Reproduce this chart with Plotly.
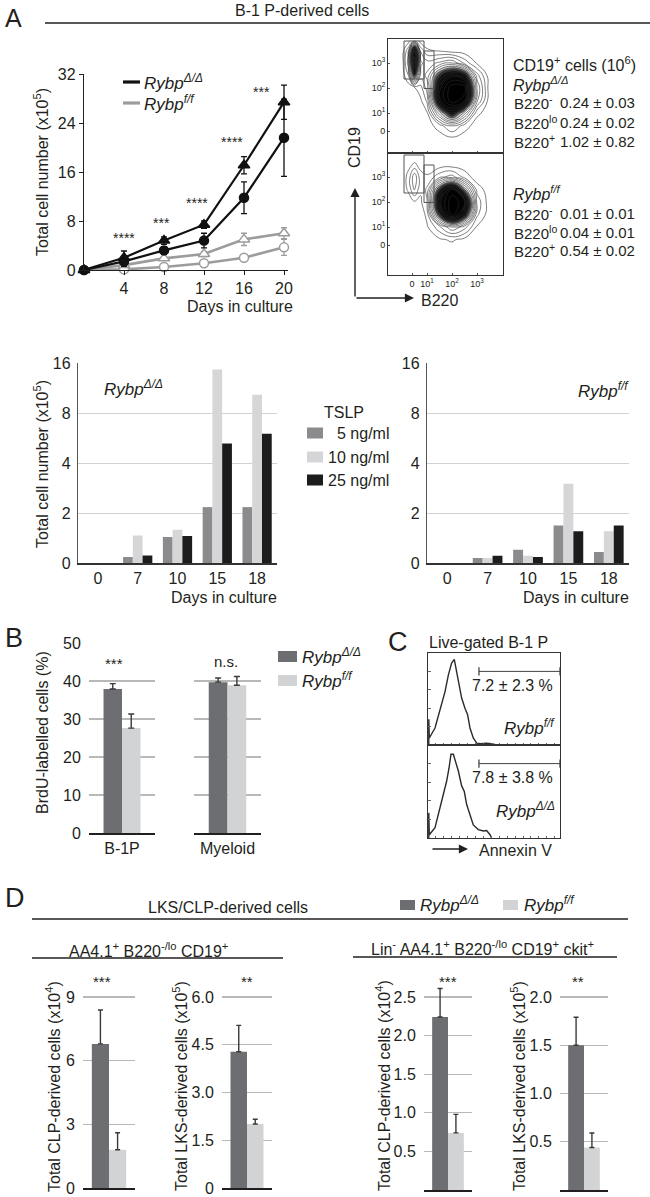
import math
import plotly.graph_objects as go

W, H = 650, 1197
FONT = "Liberation Sans, Arial, Helvetica, sans-serif"
INK = "#231f20"
KO_LINE = "#111111"
FF_LINE = "#9c9c9c"
DARK_BAR = "#6d6e71"
LIGHT_BAR = "#d1d3d4"
C5, C10, C25 = "#8b8b8d", "#d6d6d8", "#1c1c1c"

# ---------------- data ----------------
# Panel A - growth curves (x10^5 cells)
days = [0, 4, 8, 12, 16, 20]
ko_tri = [0, 2.0, 4.8, 7.4, 17.1, 27.4]
ko_tri_err = [0, 1.1, 0.6, 0.6, 1.4, 2.8]
ko_circ = [0, 1.4, 3.2, 4.8, 11.8, 21.6]
ko_circ_err = [0, 0.8, 0.6, 1.2, 2.6, 6.3]
ff_tri = [0, 0.8, 1.9, 2.6, 5.0, 6.0]
ff_tri_err = [0, 0.3, 0.3, 0.4, 1.0, 0.9]
ff_circ = [0, 0.1, 0.5, 1.1, 2.0, 3.7]
ff_circ_err = [0, 0.1, 0.3, 0.3, 0.5, 1.3]
a_ticks_x = [4, 8, 12, 16, 20]
a_ticks_y = [0, 8, 16, 24, 32]
a_star_x = [4, 7.7, 11.3, 14.8, 17.7]
a_star_y = [5.2, 7.7, 11.0, 20.9, 29.0]
a_star_txt = ["****", "***", "****", "****", "***"]

# Panel A - flow cytometry (estimated relative density on decade grid)
flow_x = [-0.5, 0, 0.25, 0.5, 0.75, 1.0, 1.5, 2.0, 2.5, 3.0, 3.5, 4.0]
flow_y_ko = [-0.5, 0, 0.5, 1.0, 1.5, 2.0, 2.5, 3.0, 3.5, 3.9]
flow_z_ko = [
    [0, 0, 0, 0, 0, 0, 0, 0, 0, 0, 0, 0],
    [0, 0, 0, 0, 0, 0, 0, 0.3, 0, 0, 0, 0],
    [0, 0, 0, 0, 0, 0, 0.8, 1.8, 0.8, 0, 0, 0],
    [0, 0, 0, 0, 0, 0.3, 4, 7, 4, 0.6, 0, 0],
    [0, 0, 0, 0, 0.3, 1.2, 8, 10, 9, 2.5, 0, 0],
    [0, 0, 0, 0.3, 0.8, 2, 8, 10, 10, 3, 0, 0],
    [0, 0, 1, 6, 2, 2.5, 6, 8, 7, 2, 0, 0],
    [0, 0, 2, 10, 2.5, 2, 2.5, 3, 1.5, 0.3, 0, 0],
    [0, 0, 1.5, 9, 1.5, 0.5, 0.3, 0, 0, 0, 0, 0],
    [0, 0, 0, 1, 0, 0, 0, 0, 0, 0, 0, 0],
]
flow_y_ff = [-0.9, -0.5, 0, 0.5, 1.0, 1.5, 2.0, 2.5, 3.0, 3.5, 3.9]
flow_z_ff = [
    [0, 0, 0, 0, 0, 0, 0, 0, 0, 0, 0, 0],
    [0, 0, 0, 0, 0, 0, 0, 0, 0, 0, 0, 0],
    [0, 0, 0, 0, 0, 0, 0, 0, 0, 0, 0, 0],
    [0, 0, 0, 0, 0, 0, 0.3, 0.5, 0.2, 0, 0, 0],
    [0, 0, 0, 0, 0, 0.3, 1.5, 3, 2, 0.3, 0, 0],
    [0, 0, 0, 0, 0, 0.6, 6, 10, 7, 1.2, 0, 0],
    [0, 0, 0, 0.3, 0.3, 1.0, 8, 10, 9, 1.5, 0, 0],
    [0, 0, 0.5, 1.8, 0.5, 1.2, 6, 9, 5, 0.8, 0, 0],
    [0, 0, 0.6, 2.2, 0.6, 0.5, 1.5, 2, 0.8, 0, 0, 0],
    [0, 0, 0.2, 0.5, 0.2, 0, 0, 0, 0, 0, 0, 0],
    [0, 0, 0, 0, 0, 0, 0, 0, 0, 0, 0, 0],
]
flow_tickvals_y = [0.28, 1, 2, 3]
flow_tickvals_x = [0.4, 1, 2, 3]
flow_ticktext = ["0", "10<sup>1</sup>", "10<sup>2</sup>", "10<sup>3</sup>"]
gate_neg_x = [0.08, 0.88]
gate_neg_y = [2.36, 3.88]
gate_lo_x = [0.88, 1.28]
gate_lo_y = [1.98, 3.48]
cd19_rows = ["B220<sup>-</sup>", "B220<sup>lo</sup>", "B220<sup>+</sup>"]
cd19_ko = ["0.24 ± 0.03", "0.24 ± 0.02", "1.02 ± 0.82"]
cd19_ff = ["0.01 ± 0.01", "0.04 ± 0.01", "0.54 ± 0.02"]

# Panel A - TSLP bar charts (x10^5 cells)
tslp_days = ["0", "7", "10", "15", "18"]
tslp_levels = ["5 ng/ml", "10 ng/ml", "25 ng/ml"]
ko_5ng = [0, 0.24, 1.04, 2.17, 2.17]
ko_10ng = [0, 1.1, 1.33, 14.6, 10.3]
ko_25ng = [0, 0.3, 1.08, 5.24, 6.0]
ff_5ng = [0, 0.2, 0.53, 1.5, 0.44]
ff_10ng = [0, 0.2, 0.29, 3.0, 1.27]
ff_25ng = [0, 0.29, 0.24, 1.27, 1.5]
tslp_ticks = [0, 2, 4, 8, 16]

# Panel B - BrdU
brdu_groups = ["B-1P", "Myeloid"]
brdu_ko = [37.9, 39.7]
brdu_ko_err = [1.4, 1.1]
brdu_ff = [27.6, 38.9]
brdu_ff_err = [3.7, 2.3]
brdu_sig = ["***", "n.s."]

# Panel C - Annexin V histograms
annexin_x_ff = [0.6, 0.6, 1.0, 5.3, 9.1, 12.9, 15.4, 17.9, 19.9, 21.0, 21.7, 23.0, 25.5,
                28.0, 30.0, 31.8, 34.3, 36.9, 40.0, 44.0, 48.0, 52.0]
annexin_ff = [0, 28, 7.6, 18.5, 38, 58, 76, 89, 93, 84, 78, 71, 51,
              40, 33, 18.5, 7.6, 2, 1.5, 2, 1.5, 0]
annexin_x_ko = [0.6, 0.6, 1.0, 5.3, 9.1, 11.6, 14.1, 15.9, 17.4, 19.2, 20.9, 23.0, 25.5,
                27.5, 29.3, 31.8, 34.3, 38.1, 41.9, 44.4, 47.0, 48.2]
annexin_ko = [0, 27, 3.5, 11, 32, 47, 61, 75, 90, 90, 83, 72, 56,
              50, 36, 24, 14, 9, 7.5, 8, 3.5, 0]
annexin_gate = [38.6, 100]
annexin_pct = ["7.2 ± 2.3 %", "7.8 ± 3.8 %"]

# Panel D - LKS / CLP derived cells
d_ko = [6.79, 4.28, 2.24, 1.50]
d_ko_err = [1.6, 0.83, 0.37, 0.29]
d_ff = [1.8, 2.01, 0.74, 0.44]
d_ff_err = [0.8, 0.15, 0.24, 0.15]
d_ticks = [[0, 3, 6, 9], [0, 1.5, 3.0, 4.5, 6.0], [0, 0.5, 1.0, 1.5, 2.0, 2.5], [0, 0.5, 1.0, 1.5, 2.0]]
d_ticktext = [["0", "3", "6", "9"], ["0", "1.5", "3.0", "4.5", "6.0"],
              ["0", "0.5", "1.0", "1.5", "2.0", "2.5"], ["0", "0.5", "1.0", "1.5", "2.0"]]
d_sig = ["***", "**", "***", "**"]
d_ylabels = ["Total CLP-derived cells (x10<sup>4</sup>)", "Total LKS-derived cells (x10<sup>5</sup>)",
             "Total CLP-derived cells (x10<sup>4</sup>)", "Total LKS-derived cells (x10<sup>5</sup>)"]

KO = "<i>Rybp</i><sup><i>Δ/Δ</i></sup>"
FF = "<i>Rybp</i><sup><i>f/f</i></sup>"


# ---------------- helpers ----------------
def X(px):
    return px / W


def Y(py):
    return 1 - py / H


def tslp_pos(v):
    # broken axis: 0-2 linear, then doubling per gridline
    return v / 2 if v <= 2 else 1 + math.log2(v / 2)


fig = go.Figure()
annotations = []
shapes = []


def ann(text, x, y, size=16, xa="center", ya="middle", angle=0, color=INK, **kw):
    annotations.append(dict(text=text, x=X(x), y=Y(y), xref="paper", yref="paper",
                            xanchor=xa, yanchor=ya, showarrow=False, textangle=angle,
                            font=dict(size=size, color=color, family=FONT), **kw))


def hline(x0, x1, y, width=1.3, color=INK):
    shapes.append(dict(type="line", xref="paper", yref="paper", x0=X(x0), x1=X(x1),
                       y0=Y(y), y1=Y(y), line=dict(color=color, width=width)))


def rect(x0, x1, y0, y1, color):
    shapes.append(dict(type="rect", xref="paper", yref="paper", x0=X(x0), x1=X(x1),
                       y0=Y(y1), y1=Y(y0), line=dict(width=0), fillcolor=color))


layout_axes = {}

# ---------------- Panel A: growth curves ----------------
ann("A", 3, 2, size=25, xa="left", ya="top")
ann("B-1 P-derived cells", 302, 11, size=16)
hline(45, 650, 23)

series = [
    (ff_circ, ff_circ_err, "circle", FF_LINE, True),
    (ff_tri, ff_tri_err, "triangle-up", FF_LINE, True),
    (ko_circ, ko_circ_err, "circle", KO_LINE, False),
    (ko_tri, ko_tri_err, "triangle-up", KO_LINE, False),
]
for vals, errs, sym, col, hollow in series:
    fig.add_trace(go.Scatter(
        x=days, y=vals, mode="lines+markers", xaxis="x", yaxis="y", cliponaxis=False,
        line=dict(color=col, width=2.6 if hollow else 2.2),
        marker=dict(symbol=sym, size=9 if sym == "circle" else 10,
                    color="white" if hollow else col,
                    line=dict(color=col, width=1.5)),
        error_y=dict(type="data", array=errs, color=col, thickness=1.3, width=3),
        hoverinfo="skip"))
for sx, sy, st in zip(a_star_x, a_star_y, a_star_txt):
    annotations.append(dict(text=st, x=sx, y=sy, xref="x", yref="y", showarrow=False,
                            font=dict(size=14, color=INK, family=FONT)))
layout_axes["xaxis"] = dict(domain=[X(84), X(288)], range=[0, 20.4], tickvals=a_ticks_x,
                            anchor="y", showline=True, linecolor=INK, linewidth=1.2,
                            ticks="outside", ticklen=4, tickcolor=INK, showgrid=False,
                            zeroline=False, tickfont=dict(size=16))
layout_axes["yaxis"] = dict(domain=[Y(270), Y(74)], range=[0, 32], tickvals=a_ticks_y,
                            anchor="x", showline=True, linecolor=INK, linewidth=1.2,
                            ticks="outside", ticklen=4, tickcolor=INK, showgrid=False,
                            zeroline=False, tickfont=dict(size=16))
ann("Total cell number (x10<sup>5</sup>)", 41, 172, size=16, angle=-90)
ann("Days in culture", 240, 306, size=16)
hline(123, 140, 82, width=3.2, color=KO_LINE)
hline(123, 140, 103, width=3.2, color=FF_LINE)
ann(KO, 142, 82, size=17, xa="left")
ann(FF, 142, 103, size=17, xa="left")

# ---------------- Panel A: flow cytometry ----------------
flow_cs = [[0, "white"], [0.42, "white"], [0.55, "#555555"], [0.66, "#111111"], [1, "#000000"]]
for idx, (fy, fz, ax) in enumerate([(flow_y_ko, flow_z_ko, "2"), (flow_y_ff, flow_z_ff, "3")]):
    fig.add_trace(go.Contour(
        x=flow_x, y=fy, z=fz, xaxis="x" + ax, yaxis="y" + ax, showscale=False,
        colorscale=flow_cs, zmin=0, zmax=10,
        contours=dict(start=0.4, end=10, size=0.65, coloring="fill", showlines=True),
        line=dict(color="#2a2a2a", width=0.6, smoothing=1.3), hoverinfo="skip"))
    for gx, gy in [(gate_neg_x, gate_neg_y), (gate_lo_x, gate_lo_y)]:
        fig.add_trace(go.Scatter(
            x=[gx[0], gx[1], gx[1], gx[0], gx[0]], y=[gy[0], gy[0], gy[1], gy[1], gy[0]],
            mode="lines", line=dict(color="#555555", width=1), xaxis="x" + ax, yaxis="y" + ax,
            hoverinfo="skip"))

flow_axis = dict(showline=True, mirror=True, linecolor="#333333", linewidth=1, showgrid=False,
                 zeroline=False, ticks="inside", ticklen=2, tickcolor="#555555",
                 tickfont=dict(size=9))
layout_axes["xaxis2"] = dict(flow_axis, domain=[X(388), X(503)], range=[-0.56, 4.04], anchor="y2",
                             tickvals=flow_tickvals_x, showticklabels=False)
layout_axes["yaxis2"] = dict(flow_axis, domain=[Y(153), Y(39)], range=[-0.6, 3.96], anchor="x2",
                             tickvals=flow_tickvals_y, ticktext=flow_ticktext)
layout_axes["xaxis3"] = dict(flow_axis, domain=[X(388), X(503)], range=[-0.56, 4.04], anchor="y3",
                             tickvals=flow_tickvals_x, ticktext=flow_ticktext)
layout_axes["yaxis3"] = dict(flow_axis, domain=[Y(275), Y(153)], range=[-0.92, 3.96], anchor="x3",
                             tickvals=flow_tickvals_y, ticktext=flow_ticktext)

ann("CD19", 355, 147, size=16, angle=-90)
annotations.append(dict(x=X(355), y=Y(188), xref="paper", yref="paper", ax=0, ay=110,
                        axref="pixel", ayref="pixel", showarrow=True, arrowhead=2, arrowsize=1.3,
                        arrowwidth=1.4, arrowcolor=INK, text=""))
annotations.append(dict(x=X(414), y=Y(298), xref="paper", yref="paper", ax=-59, ay=0,
                        axref="pixel", ayref="pixel", showarrow=True, arrowhead=2, arrowsize=1.3,
                        arrowwidth=1.4, arrowcolor=INK, text=""))
ann("B220", 419, 300, size=16, xa="left")

ann("CD19<sup>+</sup> cells (10<sup>6</sup>)", 511, 64, size=16, xa="left")
ann(KO, 511, 84, size=16, xa="left")
for i, (lab, val) in enumerate(zip(cd19_rows, cd19_ko)):
    ann(lab, 512, 103 + 19.3 * i, size=15, xa="left")
    ann(val, 558, 103 + 19.3 * i, size=15, xa="left")
ann(FF, 511, 193, size=16, xa="left")
for i, (lab, val) in enumerate(zip(cd19_rows, cd19_ff)):
    ann(lab, 512, 213 + 19 * i, size=15, xa="left")
    ann(val, 558, 213 + 19 * i, size=15, xa="left")

# ---------------- Panel A: TSLP bars ----------------
bw = 0.245
for ax, sets, dom in [("4", (ko_5ng, ko_10ng, ko_25ng), (78, 277)),
                      ("5", (ff_5ng, ff_10ng, ff_25ng), (427, 629))]:
    for k, (vals, col) in enumerate(zip(sets, (C5, C10, C25))):
        fig.add_trace(go.Bar(
            x=tslp_days, y=[tslp_pos(v) for v in vals], width=bw, offset=(k - 1.5) * bw,
            marker=dict(color=col, line=dict(width=0)), xaxis="x" + ax, yaxis="y" + ax,
            hoverinfo="skip"))
    layout_axes["xaxis" + ax] = dict(domain=[X(dom[0]), X(dom[1])], type="category",
                                     categoryorder="array", categoryarray=tslp_days,
                                     range=[-0.5, 4.5], anchor="y" + ax, showline=True,
                                     linecolor="#333333", linewidth=1.5, ticks="", showgrid=False,
                                     tickfont=dict(size=16))
    layout_axes["yaxis" + ax] = dict(domain=[Y(563), Y(363)], range=[0, 4],
                                     tickvals=[tslp_pos(t) for t in tslp_ticks],
                                     ticktext=[str(t) for t in tslp_ticks], anchor="x" + ax,
                                     showgrid=True, gridcolor="#d2d2d2", gridwidth=1,
                                     showline=True, linecolor="#555555", linewidth=1.2,
                                     zeroline=False, ticks="outside", ticklen=3,
                                     tickcolor="rgba(0,0,0,0)", tickfont=dict(size=16))
ann("Total cell number (x10<sup>5</sup>)", 41, 464, size=16, angle=-90)
ann(KO, 102, 388, size=17, xa="left")
ann("Days in culture", 224, 597, size=16)
ann(FF, 631, 390, size=17, xa="right")
ann("Days in culture", 576, 597, size=16)
ann("TSLP", 322, 412, size=16, xa="left")
for k, (lab, col, yy) in enumerate(zip(tslp_levels, (C5, C10, C25), (433, 457, 480))):
    rect(307, 323, yy - 5.5, yy + 5.5, col)
    ann(lab, 391, yy, size=16, xa="right")

# ---------------- Panel B ----------------
ann("B", 3, 638, size=27, xa="left")
bbw = 0.28
for i, (grp, dom) in enumerate(zip(brdu_groups, [(89, 155), (194, 261)])):
    ax = str(6 + i)
    fig.add_trace(go.Bar(x=[grp], y=[brdu_ko[i]], width=bbw, offset=-bbw,
                         marker=dict(color=DARK_BAR, line=dict(width=0)),
                         error_y=dict(type="data", array=[brdu_ko_err[i]], arrayminus=[0],
                                      symmetric=False, color="#3a3a3a", thickness=1.4, width=3),
                         xaxis="x" + ax, yaxis="y" + ax, hoverinfo="skip"))
    fig.add_trace(go.Bar(x=[grp], y=[brdu_ff[i]], width=bbw, offset=0,
                         marker=dict(color=LIGHT_BAR, line=dict(width=0)),
                         error_y=dict(type="data", array=[brdu_ff_err[i]], arrayminus=[0],
                                      symmetric=False, color="#3a3a3a", thickness=1.4, width=3),
                         xaxis="x" + ax, yaxis="y" + ax, hoverinfo="skip"))
    layout_axes["xaxis" + ax] = dict(domain=[X(dom[0]), X(dom[1])], type="category",
                                     range=[-0.5, 0.5], anchor="y" + ax, showline=True,
                                     linecolor=INK, linewidth=1.5, ticks="", showgrid=False,
                                     tickfont=dict(size=16))
    layout_axes["yaxis" + ax] = dict(domain=[Y(833), Y(643)], range=[0, 50], dtick=10,
                                     anchor="x" + ax, showgrid=True, gridcolor="#b8b8b8",
                                     gridwidth=1.2, showline=False, zeroline=False,
                                     ticks="outside", ticklen=4, tickcolor="rgba(0,0,0,0)",
                                     showticklabels=(i == 0), tickfont=dict(size=16))
ann(brdu_sig[0], 114, 663, size=15)
ann(brdu_sig[1], 226, 661, size=15)
ann("BrdU-labelled cells (%)", 42, 733, size=16, angle=-90)
rect(278, 297, 651, 662, DARK_BAR)
rect(278, 297, 675, 686, LIGHT_BAR)
ann(KO, 300, 656, size=17, xa="left")
ann(FF, 300, 680, size=17, xa="left")

# ---------------- Panel C ----------------
ann("C", 398, 642, size=27)
ann("Live-gated B-1 P", 427, 642, size=16, xa="left")
for i, (hx, hy, ax, dom) in enumerate([(annexin_x_ff, annexin_ff, "8", (745, 653)),
                                        (annexin_x_ko, annexin_ko, "9", (838, 745))]):
    fig.add_trace(go.Scatter(x=hx, y=hy, mode="lines", line=dict(color="#2a2a2a", width=1.4),
                             xaxis="x" + ax, yaxis="y" + ax, hoverinfo="skip", cliponaxis=False))
    fig.add_trace(go.Scatter(x=annexin_gate, y=[80, 80], mode="lines+markers",
                             line=dict(color="#444444", width=1),
                             marker=dict(symbol="line-ns-open", size=6, line=dict(width=1.3, color="#333")),
                             xaxis="x" + ax, yaxis="y" + ax, hoverinfo="skip", cliponaxis=False))
    layout_axes["xaxis" + ax] = dict(domain=[X(428), X(560)], range=[0, 100], anchor="y" + ax,
                                     showline=True, mirror=True, linecolor="#333333", linewidth=1,
                                     showgrid=False, zeroline=False, showticklabels=False,
                                     ticks="inside", ticklen=2, dtick=6, tickcolor="#666666")
    layout_axes["yaxis" + ax] = dict(domain=[Y(dom[0]), Y(dom[1])], range=[0, 100], anchor="x" + ax,
                                     showline=True, mirror=True, linecolor="#333333", linewidth=1,
                                     showgrid=False, zeroline=False, showticklabels=False,
                                     ticks="inside", ticklen=3, dtick=20, tickcolor="#666666")
ann(annexin_pct[0], 512, 685, size=16)
ann(FF, 557, 727, size=17, xa="right")
ann(annexin_pct[1], 512, 777, size=16)
ann(KO, 557, 810, size=17, xa="right")
annotations.append(dict(x=X(468), y=Y(849), xref="paper", yref="paper", ax=-37, ay=0,
                        axref="pixel", ayref="pixel", showarrow=True, arrowhead=2, arrowsize=1.3,
                        arrowwidth=1.4, arrowcolor=INK, text=""))
ann("Annexin V", 477, 850, size=16, xa="left")

# ---------------- Panel D ----------------
ann("D", 3, 898, size=27, xa="left")
ann("LKS/CLP-derived cells", 228, 907, size=16)
hline(32, 628, 919)
rect(400, 415, 900, 910, DARK_BAR)
ann(KO, 418, 904, size=17, xa="left")
rect(503, 518, 900, 910, LIGHT_BAR)
ann(FF, 522, 904, size=17, xa="left")
ann("AA4.1<sup>+</sup> B220<sup>-/lo</sup> CD19<sup>+</sup>", 148, 950, size=16)
hline(32, 283, 958)
ann("Lin<sup>-</sup> AA4.1<sup>+</sup> B220<sup>-/lo</sup> CD19<sup>+</sup> ckit<sup>+</sup>", 482, 948, size=16)
hline(353, 617, 957)

d_doms = [(83, 135, 1188), (222, 272, 1188), (424, 472, 1190), (560, 608, 1190)]
d_label_x = [53, 180, 383, 518]
d_star_x = [102, 247, 448, 578]
dbw = 0.33
DTOP, DGRID = 975, 997
for i in range(4):
    ax = str(10 + i)
    x0, x1, zero = d_doms[i]
    vmax = d_ticks[i][-1]
    top = vmax * (zero - DTOP) / (zero - DGRID)
    fig.add_trace(go.Bar(x=[0], y=[d_ko[i]], width=dbw, offset=-dbw,
                         marker=dict(color=DARK_BAR, line=dict(width=0)),
                         error_y=dict(type="data", array=[d_ko_err[i]], arrayminus=[0],
                                      symmetric=False, color="#3a3a3a", thickness=1.4, width=2.5),
                         xaxis="x" + ax, yaxis="y" + ax, hoverinfo="skip"))
    fig.add_trace(go.Bar(x=[0], y=[d_ff[i]], width=dbw, offset=0,
                         marker=dict(color=LIGHT_BAR, line=dict(width=0)),
                         error_y=dict(type="data", array=[d_ff_err[i]], arrayminus=[0],
                                      symmetric=False, color="#3a3a3a", thickness=1.4, width=2.5),
                         xaxis="x" + ax, yaxis="y" + ax, hoverinfo="skip"))
    layout_axes["xaxis" + ax] = dict(domain=[X(x0), X(x1)], range=[-0.5, 0.5], anchor="y" + ax,
                                     showline=True, linecolor=INK, linewidth=1.5, ticks="",
                                     showticklabels=False, showgrid=False, zeroline=False)
    layout_axes["yaxis" + ax] = dict(domain=[Y(zero), Y(DTOP)], range=[0, top],
                                     tickvals=d_ticks[i], ticktext=d_ticktext[i], anchor="x" + ax,
                                     showgrid=True, gridcolor="#b8b8b8", gridwidth=1.2,
                                     showline=False, zeroline=False, ticks="outside", ticklen=4,
                                     tickcolor="rgba(0,0,0,0)", tickfont=dict(size=16))
    ann(d_ylabels[i], d_label_x[i], 1086, size=16, angle=-90)
    ann(d_sig[i], d_star_x[i], 981, size=15)

fig.update_layout(
    width=W, height=H, margin=dict(l=0, r=0, t=0, b=0, autoexpand=False),
    paper_bgcolor="white", plot_bgcolor="rgba(0,0,0,0)", showlegend=False,
    barmode="overlay", font=dict(family=FONT, size=16, color=INK),
    annotations=annotations, shapes=shapes, **layout_axes)

fig.write_html("out.html", config={"displayModeBar": False, "staticPlot": True},
               post_script="document.body.style.margin='0';")
